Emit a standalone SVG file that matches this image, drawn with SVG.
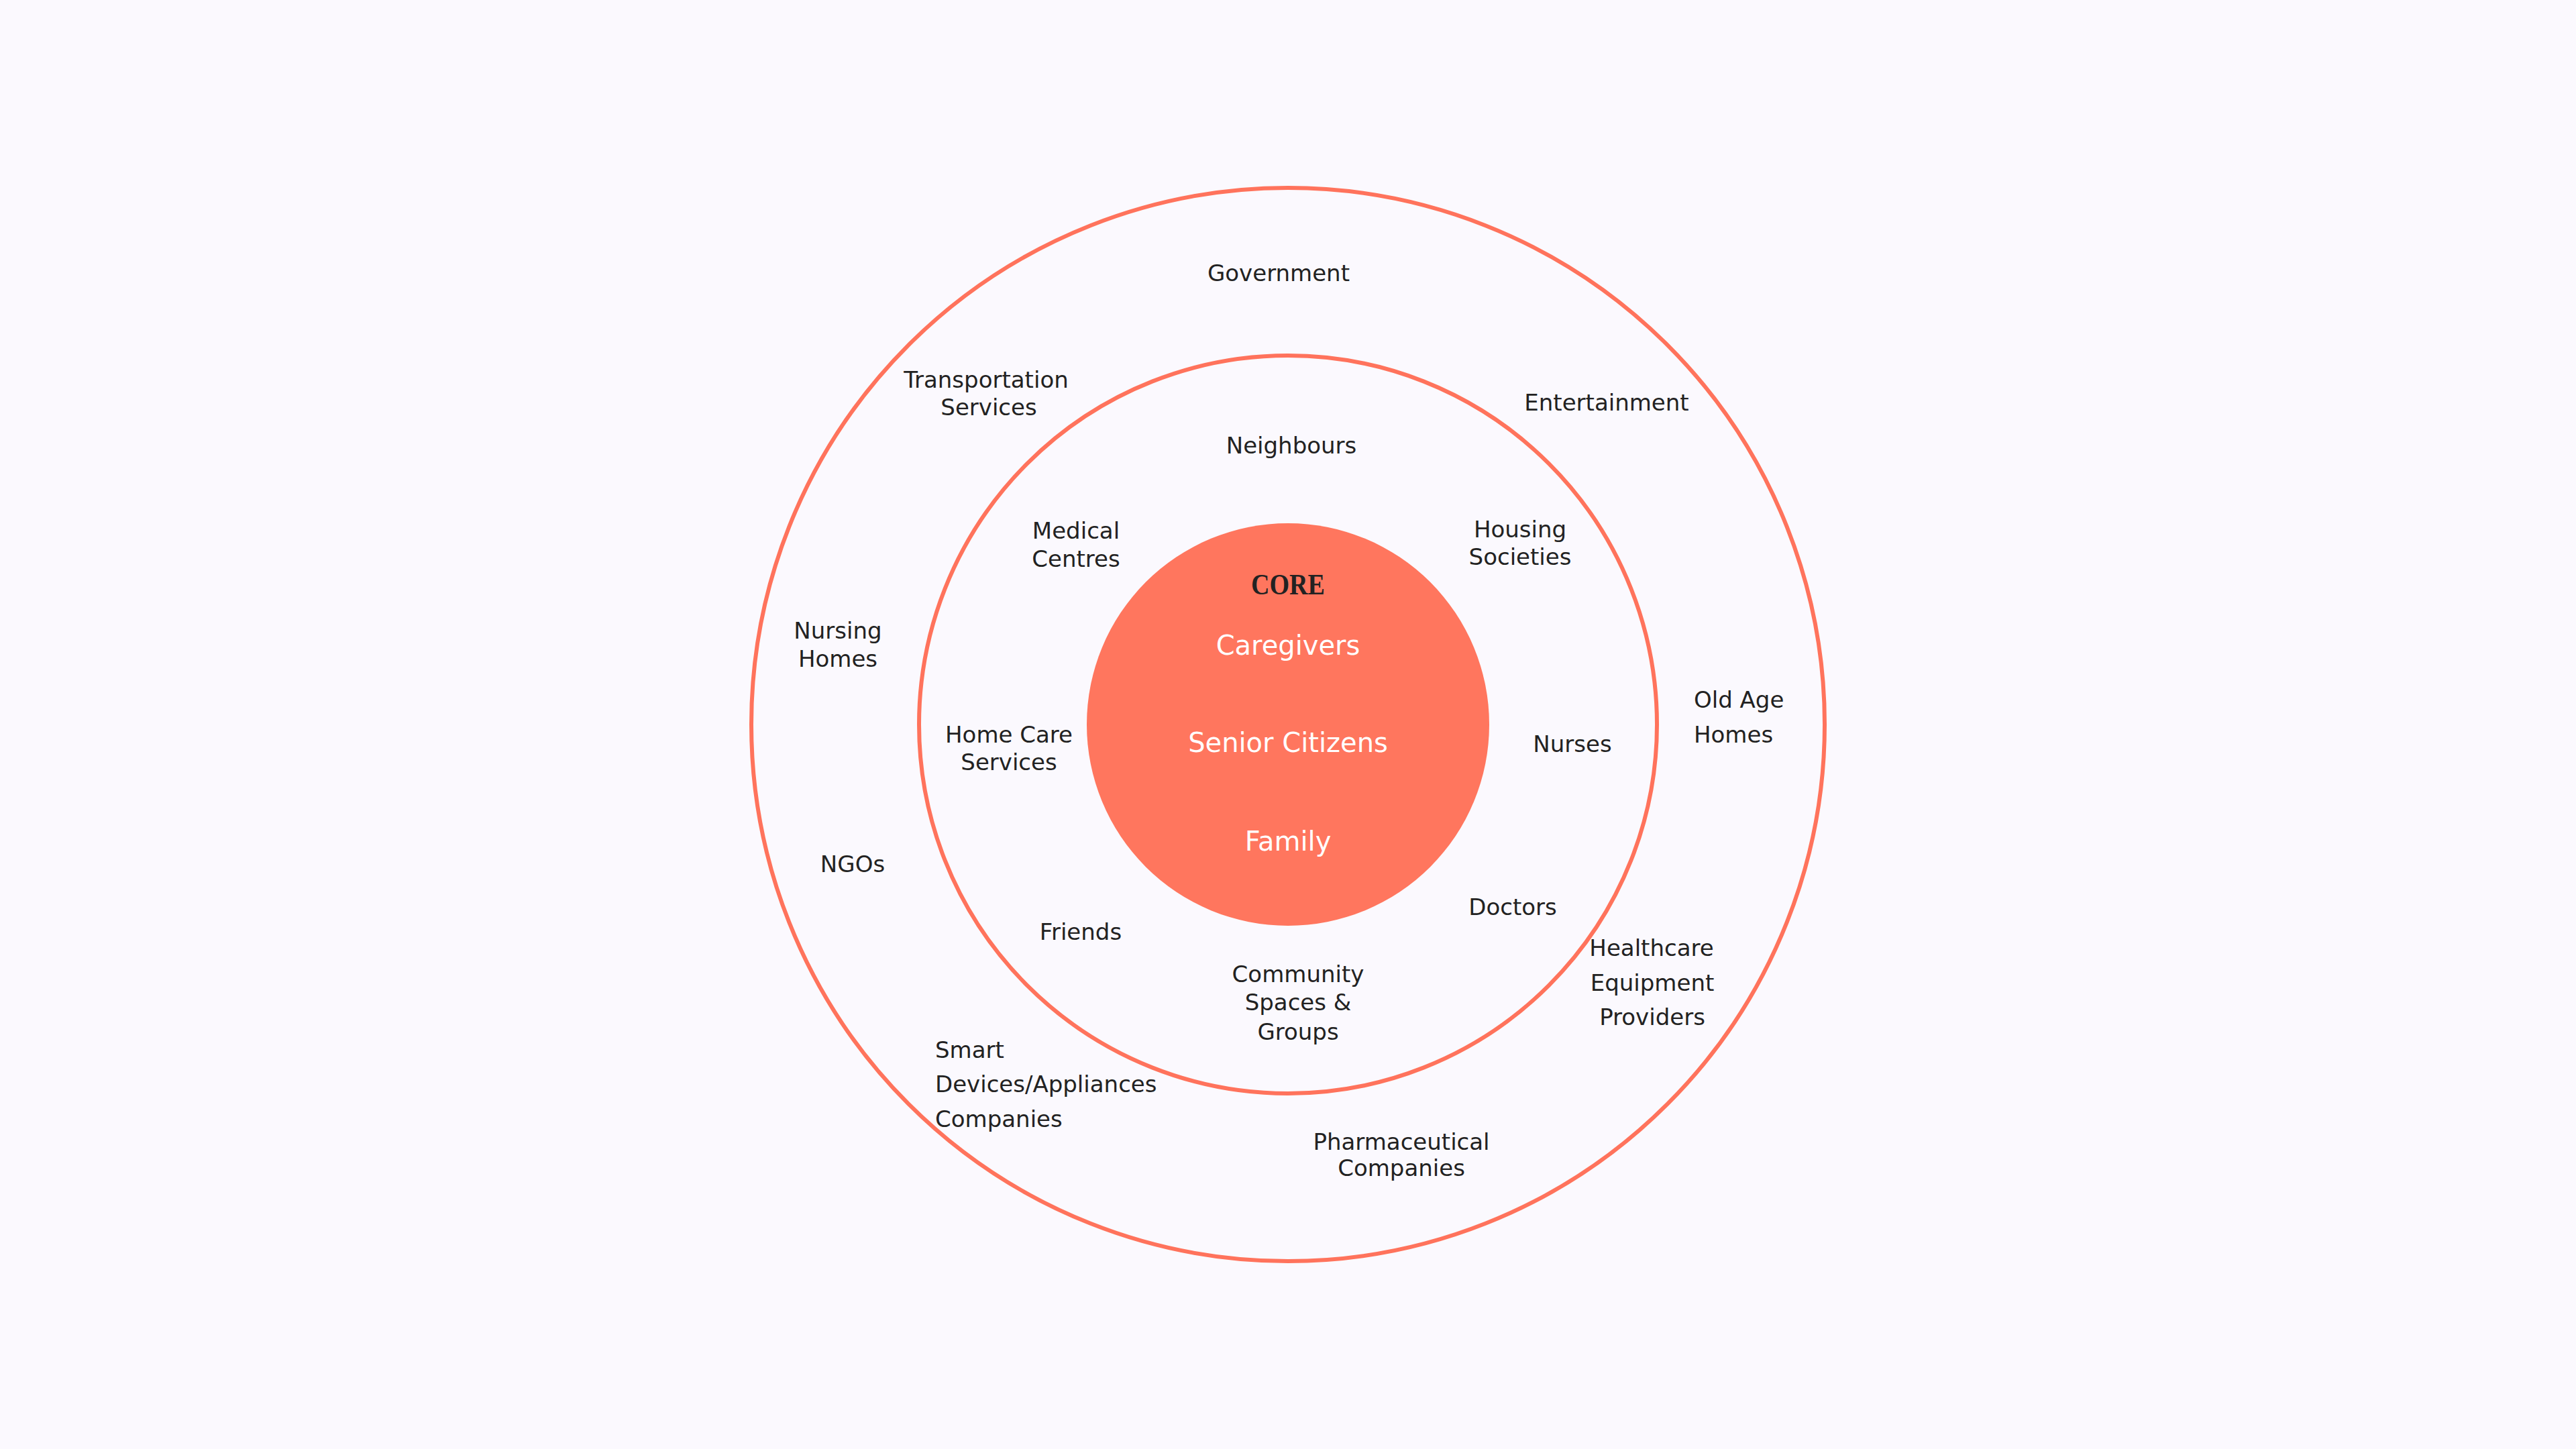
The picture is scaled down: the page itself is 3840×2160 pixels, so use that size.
<svg xmlns="http://www.w3.org/2000/svg" width="3840" height="2160" viewBox="0 0 3840 2160">
<style>
.ring{fill:none;stroke:#FF735C;stroke-width:6}
.core{fill:#FF765E}
.lbl{font-family:"DejaVu Sans","Liberation Sans",sans-serif;font-size:34px;fill:#222222;text-anchor:middle}
.lft{text-anchor:start}
.wht{font-family:"DejaVu Sans","Liberation Sans",sans-serif;font-size:40px;fill:#FFFFFF;text-anchor:middle}
.ttl{font-family:"Liberation Serif","DejaVu Serif",serif;font-weight:bold;font-size:44px;fill:#222222;text-anchor:middle}
</style>
<rect width="3840" height="2160" fill="#FBF9FE"/>
<g id="rings">
<circle id="outer-ring" class="ring" cx="1920" cy="1080" r="800"/>
<circle id="middle-ring" class="ring" cx="1920" cy="1080" r="550"/>
<circle id="core-circle" class="core" cx="1920" cy="1080" r="300"/>
</g>
<g id="connectors"></g>
<g id="core">
<text class="ttl" x="1920" y="886" textLength="110" lengthAdjust="spacingAndGlyphs">CORE</text>
</g>
<g id="caregivers"><text class="wht" x="1920" y="976">Caregivers</text></g>
<g id="senior-citizens"><text class="wht" x="1920" y="1121">Senior Citizens</text></g>
<g id="family"><text class="wht" x="1920" y="1268">Family</text></g>

<g id="neighbours"><text class="lbl" x="1925" y="676">Neighbours</text></g>
<g id="medical-centres"><text class="lbl" x="1604" y="803">Medical<tspan x="1604" y="845">Centres</tspan></text></g>
<g id="housing-societies"><text class="lbl" x="2266" y="801">Housing<tspan x="2266" y="842">Societies</tspan></text></g>
<g id="home-care-services"><text class="lbl" x="1504" y="1107">Home Care<tspan x="1504" y="1148">Services</tspan></text></g>
<g id="nurses"><text class="lbl" x="2344" y="1121">Nurses</text></g>
<g id="friends"><text class="lbl" x="1611" y="1401">Friends</text></g>
<g id="doctors"><text class="lbl" x="2255" y="1364">Doctors</text></g>
<g id="community"><text class="lbl" x="1935" y="1464">Community<tspan x="1935" y="1506">Spaces &amp;</tspan><tspan x="1935" y="1550">Groups</tspan></text></g>

<g id="government"><text class="lbl" x="1906" y="419">Government</text></g>
<g id="transportation"><text class="lbl" x="1470" y="578">Transportation<tspan x="1474" y="619">Services</tspan></text></g>
<g id="entertainment"><text class="lbl" x="2395" y="612">Entertainment</text></g>
<g id="nursing-homes"><text class="lbl" x="1249" y="952">Nursing<tspan x="1249" y="994">Homes</tspan></text></g>
<g id="old-age-homes"><text class="lbl lft" x="2525" y="1055">Old Age<tspan x="2525" y="1107">Homes</tspan></text></g>
<g id="ngos"><text class="lbl" x="1271" y="1300">NGOs</text></g>
<g id="healthcare-equipment"><text class="lbl" x="2462" y="1425">Healthcare<tspan x="2463" y="1477">Equipment</tspan><tspan x="2463" y="1528">Providers</tspan></text></g>
<g id="smart-devices"><text class="lbl lft" x="1394" y="1577">Smart<tspan x="1394" y="1628">Devices/Appliances</tspan><tspan x="1394" y="1680">Companies</tspan></text></g>
<g id="pharmaceutical"><text class="lbl" x="2089" y="1714">Pharmaceutical<tspan x="2089" y="1753">Companies</tspan></text></g>
</svg>
